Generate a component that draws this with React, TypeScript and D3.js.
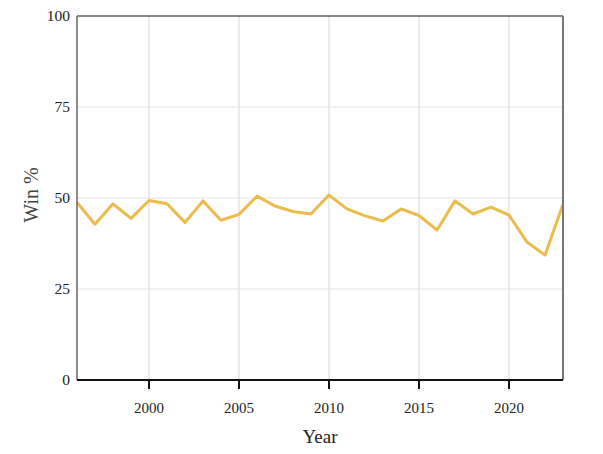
import { line, scaleLinear } from 'd3'

const years = [
  1996, 1997, 1998, 1999, 2000, 2001, 2002, 2003, 2004, 2005, 2006, 2007, 2008, 2009,
  2010, 2011, 2012, 2013, 2014, 2015, 2016, 2017, 2018, 2019, 2020, 2021, 2022, 2023,
]
const winPct = [
  48.8, 42.8, 48.4, 44.4, 49.3, 48.4, 43.3, 49.2, 43.9, 45.5, 50.5, 47.8, 46.3, 45.6,
  50.8, 47.0, 45.1, 43.7, 47.0, 45.2, 41.2, 49.2, 45.6, 47.5, 45.3, 37.9, 34.3, 48.3,
]
const xTicks = [2000, 2005, 2010, 2015, 2020]
const yTicks = [0, 25, 50, 75, 100]

const width = 603
const height = 454
const margin = { top: 16, right: 40, bottom: 74, left: 77 }
const font = '"Liberation Serif", "DejaVu Serif", serif'

export default function App() {
  const x = scaleLinear()
    .domain([1996, 2023])
    .range([margin.left, width - margin.right])
  const y = scaleLinear()
    .domain([0, 100])
    .range([height - margin.bottom, margin.top])
  const points = years.map((year, i) => ({ year, value: winPct[i] }))
  const path =
    line<{ year: number; value: number }>()
      .x((d) => x(d.year))
      .y((d) => y(d.value))(points) ?? ''

  const [x0, x1] = x.range()
  const [y0, y1] = y.range()

  return (
    <svg
      width={width}
      height={height}
      style={{ position: 'absolute', left: 0, top: 0, fontFamily: font }}
    >
      <rect width={width} height={height} fill="#fff" />
      {xTicks.map((t) => (
        <line key={`gx${t}`} x1={x(t)} x2={x(t)} y1={y1} y2={y0} stroke="#e3e3e3" strokeWidth={1.5} />
      ))}
      {yTicks.slice(1, -1).map((t) => (
        <line key={`gy${t}`} x1={x0} x2={x1} y1={y(t)} y2={y(t)} stroke="#e3e3e3" strokeWidth={1} />
      ))}
      <path d={path} fill="none" stroke="#ebbb4c" strokeWidth={3} strokeLinejoin="round" />
      <line x1={x0} x2={x1} y1={y1} y2={y1} stroke="#111" strokeWidth={1.2} />
      <line x1={x0} x2={x0} y1={y1} y2={y0} stroke="#666" strokeWidth={1.5} />
      <line x1={x1} x2={x1} y1={y1} y2={y0} stroke="#777" strokeWidth={2} />
      <line x1={x0} x2={x1} y1={y0} y2={y0} stroke="#111" strokeWidth={2} />
      {xTicks.map((t) => (
        <g key={`tx${t}`}>
          <line x1={x(t)} x2={x(t)} y1={y0} y2={y0 + 9} stroke="#111" strokeWidth={2} />
          <text x={x(t)} y={y0 + 33} textAnchor="middle" fontSize={15} fill="#222">
            {t}
          </text>
        </g>
      ))}
      {yTicks.map((t) => (
        <text key={`ty${t}`} x={x0 - 7} y={y(t)} dy="0.35em" textAnchor="end" fontSize={15.5} fill="#222">
          {t}
        </text>
      ))}
      <text x={(x0 + x1) / 2} y={y0 + 63} textAnchor="middle" fontSize={19} fill="#222">
        Year
      </text>
      <text
        transform={`translate(38, ${(y0 + y1) / 2 - 3}) rotate(-90)`}
        textAnchor="middle"
        fontSize={20}
        fill="#444"
      >
        Win %
      </text>
    </svg>
  )
}
